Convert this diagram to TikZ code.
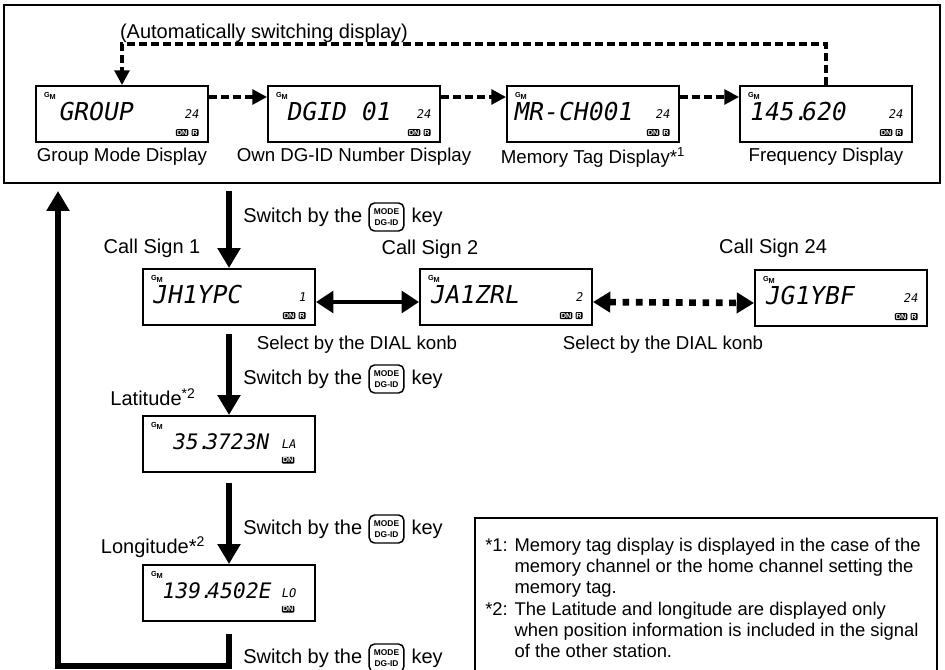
\documentclass[tikz,border=0pt]{standalone}
\usepackage{fontspec}
\setmainfont{Liberation Sans}
\newfontfamily\segfont[FakeSlant=0.18]{DejaVu Sans Mono}
\usetikzlibrary{arrows.meta,positioning}

\tikzset{
  txt/.style={inner sep=0pt,font=\fontsize{15}{18}\selectfont},
  lbl/.style={inner sep=0pt,font=\fontsize{14}{16.8}\selectfont},
  frame/.style={draw,line width=1.9pt},
  lcd/.style={draw,line width=1.4pt,minimum width=129pt,minimum height=42pt,inner sep=0pt},
  gmlogo/.style={inner sep=0pt,font=\fontsize{5.5}{5.5}\selectfont\bfseries},
  seg/.style={inner sep=0pt,font=\fontsize{18.5}{18.5}\segfont},
  segsm/.style={inner sep=0pt,font=\fontsize{16}{16}\segfont},
  chnum/.style={inner sep=0pt,font=\fontsize{9}{9}\segfont},
  badge/.style={fill=black,text=white,inner sep=0.7pt,rounded corners=0.8pt,font=\fontsize{5.5}{5.5}\selectfont\bfseries},
  modekey/.style={draw,line width=1.1pt,rounded corners=4pt,align=center,inner xsep=2pt,inner ysep=1.2pt,minimum width=26pt,minimum height=21pt,font=\fontsize{6.3}{8}\selectfont\bfseries},
  bigarrow/.style={line width=4.5pt,-{Triangle[width=16.5pt,length=15pt]}},
  bigline/.style={line width=4.5pt,line join=miter},
  dasharrow/.style={line width=2.6pt,dash pattern=on 6pt off 3pt,-{Triangle[width=11pt,length=11pt]}},
  dblarrow/.style={line width=3.5pt,{Triangle[width=16pt,length=13pt]}-{Triangle[width=16pt,length=13pt]}},
  dashdbl/.style={line width=5pt,dash pattern=on 5pt off 5pt,{Triangle[width=15pt,length=13pt]}-{Triangle[width=15pt,length=13pt]}},
}

% LCD panel: name, centre, text offset, text
\newcommand\lcdbox[5][seg]{%
  \node[lcd] (#2) at (#3) {};
  \node[gmlogo,anchor=north west] (#2-gm) at ([shift={(6.5pt,-5.5pt)}]#2.north west) {G\raisebox{-1.2pt}{M}};
  \node[#1,anchor=west] (#2-txt) at ([shift={(#4,1.8pt)}]#2.west) {#5};
}
% channel number with DN and R marks
\newcommand\lcdch[2]{%
  \node[chnum,anchor=east] (#1-ch) at ([xshift=-7.5pt]#1.east) {#2};
  \node[badge,anchor=south east] (#1-r) at ([shift={(-7.5pt,5pt)}]#1.south east) {R};
  \node[badge,anchor=south east] (#1-dn) at ([xshift=-2pt]#1-r.south west) {DN};
}
% "Switch by the [MODE DG-ID] key"
\newcommand\switchkey[2]{%
  \node[txt,anchor=west] (#1) at (#2) {Switch by the};
  \node[modekey,right=4.5pt of #1] (#1-key) {MODE\\DG-ID};
  \node[txt,right=5pt of #1-key] (#1-end) {key};
}

\begin{document}
\begin{tikzpicture}[x=0.75pt,y=-0.75pt]
\useasboundingbox (0,0) rectangle (945,670);

% automatic display loop
\node[frame,minimum width=702pt,minimum height=133.5pt] (top) at (472,94) {};
\coordinate (top-out) at ([yshift=-5pt]top.south);
\node[txt] (auto) at (264,33) {(Automatically switching display)};
\coordinate (loop) at (826,44);

\lcdbox{g1}{122,114}{17pt}{GROUP}
\lcdch{g1}{24}
\lcdbox{g2}{354,114}{14pt}{DGID 01}
\lcdch{g2}{24}
\lcdbox{g3}{593,114}{5pt}{MR-CH001}
\lcdch{g3}{24}
\lcdbox{g4}{826,114}{7pt}{145.\kern-.3em620}
\lcdch{g4}{24}

\node[lbl] (g1-lab) at (122,157) {Group Mode Display};
\node[lbl] (g2-lab) at (354,157) {Own DG-ID Number Display};
\node[lbl] (g3-lab) at (593,157) {Memory Tag Display*\textsuperscript{1}};
\node[lbl] (g4-lab) at (826,157) {Frequency Display};

\draw[dasharrow] ([yshift=12.75pt]g1.east) -- ([yshift=12.75pt]g2.west);
\draw[dasharrow] ([yshift=12.75pt]g2.east) -- ([yshift=12.75pt]g3.west);
\draw[dasharrow] ([yshift=12.75pt]g3.east) -- ([yshift=12.75pt]g4.west);
\draw[dasharrow] (g4.north) -- (loop) -| (g1.north);

% call signs
\lcdbox{c1}{229,297}{7pt}{JH1YPC}
\lcdch{c1}{1}
\lcdbox{c2}{506,297}{7.5pt}{JA1ZRL}
\lcdch{c2}{2}
\lcdbox{c3}{841,298}{7.5pt}{JG1YBF}
\lcdch{c3}{24}

\node[txt] (c1-lab) at (152,248) {Call Sign 1};
\node[txt] (c2-lab) at (430,249) {Call Sign 2};
\node[txt] (c3-lab) at (773,248) {Call Sign 24};

\switchkey{sw1}{243,217}
\draw[bigarrow] (c1.north |- top-out) -- (c1.north);

\draw[dblarrow] ([yshift=-3.75pt]c1.east) -- ([yshift=-3.75pt]c2.west);
\draw[dashdbl] ([yshift=-3.75pt]c2.east) -- ([yshift=-3.75pt]c3.west);
\node[lbl] (dial1) at (357,345) {Select by the DIAL konb};
\node[lbl] (dial2) at (663,345) {Select by the DIAL konb};

% position
\lcdbox[segsm]{lat}{229,444}{22pt}{35.\kern-.3em3723N}
\node[chnum,anchor=east] (lat-la) at ([xshift=-15pt]lat.east) {LA};
\node[badge,anchor=south east] (lat-dn) at ([shift={(-16pt,6.75pt)}]lat.south east) {DN};
\lcdbox[segsm]{lon}{229,593}{14pt}{139.\kern-.3em4502E}
\node[chnum,anchor=east] (lon-lo) at ([xshift=-15pt]lon.east) {LO};
\node[badge,anchor=south east] (lon-dn) at ([shift={(-16pt,6.75pt)}]lon.south east) {DN};

\node[txt] (lat-lab) at (153,397) {Latitude\textsuperscript{*2}};
\node[txt] (lon-lab) at (153,547) {Longitude*\textsuperscript{2}};

\switchkey{sw2}{243,379}
\switchkey{sw3}{243,529}
\switchkey{sw4}{243,658}
\draw[bigarrow] ([yshift=-6pt]c1.south) -- (lat.north);
\draw[bigarrow] ([yshift=-7.5pt]lat.south) -- (lon.north);

% back to the top
\coordinate (ret) at (58,666);
\draw[bigline,-{Triangle[width=16.5pt,length=15pt]}] ([yshift=-9pt]lon.south) -- (lon.south |- ret) -- (ret) -- (ret |- top-out);

% notes
\draw[frame] (475,675) -- (475,518) -- (937,518) -- (937,675);
\node[inner sep=0pt,anchor=north west,font=\fontsize{13.8}{16}\selectfont] (notes) at (485,536) {%
  \begin{tabular}{@{}l@{ }l@{}}
  {*}1: & Memory tag display is displayed in the case of the\\
      & memory channel or the home channel setting the\\
      & memory tag.\\
  {*}2: & The Latitude and longitude are displayed only\\
      & when position information is included in the signal\\
      & of the other station.
  \end{tabular}};
\end{tikzpicture}
\end{document}
